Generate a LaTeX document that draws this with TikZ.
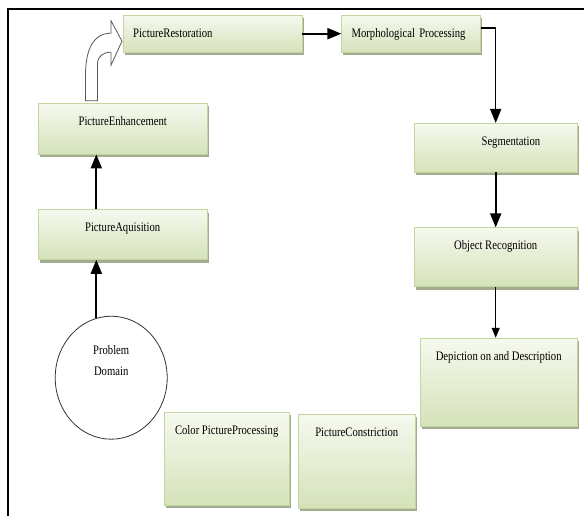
\documentclass[tikz,border=0pt]{standalone}
\usepackage{fontspec}
\newfontfamily\diagfont[FakeStretch=0.82]{Liberation Serif}
\usepackage{xcolor}
\usepackage{tikz}
\usetikzlibrary{arrows.meta, positioning, shadows, shapes.geometric}
\definecolor{blocktop}{RGB}{246, 249, 239}
\definecolor{blockbottom}{RGB}{213, 226, 185}
\definecolor{blockborder}{RGB}{196, 214, 160}
\definecolor{blockshadow}{RGB}{163, 171, 143}

\begin{document}
\begin{tikzpicture}[
    x=1pt, y=-1pt,
    node distance=55pt,
    block/.style={draw=blockborder, top color=blocktop, bottom color=blockbottom, inner sep=0pt, text height=22pt, anchor=north west, font=\diagfont\fontsize{13}{16}\selectfont, drop shadow={shadow xshift=1.5pt, shadow yshift=-3pt, fill=blockshadow, opacity=1}},
    leftblock/.style={block, inner xsep=10pt, align=left},
    source/.style={draw=black!80, fill=white, ellipse, minimum width=112pt, minimum height=123pt, inner sep=0pt, line width=0.8pt},
    arrow/.style={-{Triangle[length=14pt, width=11pt]}, line width=2pt},
    thinarrow/.style={-{Triangle[length=10pt, width=8pt]}, line width=1.2pt},
    bent/.style={draw=black!65, fill=white, line width=0.8pt},
    frame/.style={line width=1.6pt}
]
    \useasboundingbox (0,0) rectangle (584,516);
    \draw[frame] (8,516) -- (8,9) -- (584,9);

    % Main entities
    \node[leftblock, text width=159pt, text depth=15pt] at (123,15) (restore) {PictureRestoration};
    \node[leftblock, text width=119pt, text depth=15pt, right=39pt of restore] (morph) {Morphological Processing};
    \node[block, minimum width=163pt, text depth=27pt, inner xsep=37pt, text width=89pt, align=right] at (414,123) (seg) {Segmentation};
    \node[block, minimum width=163pt, text depth=37pt, below=of seg] (obj) {Object Recognition};
    \node[block, minimum width=157pt, text depth=66pt, below=51pt of obj, xshift=3pt] (depict) {Depiction on and Description};
    \node[block, minimum width=117pt, text depth=72pt] at (298,414) (constr) {PictureConstriction};
    \node[block, minimum width=125pt, text depth=71pt] at (164,412) (color) {Color PictureProcessing};
    \node[block, minimum width=169pt, text depth=29pt] at (38,103) (enh) {PictureEnhancement};
    \node[block, minimum width=169pt, text depth=28pt, below=of enh] (acq) {PictureAquisition};
    \node[source, below=56pt of acq, xshift=-11.5pt,
        label={[font=\diagfont\fontsize{13}{16}\selectfont, align=center, yshift=17.5pt]center:Problem\\[5pt]Domain}] (domain) {};

    % Relationships
    \draw[arrow] (domain.104) -- (domain.104 |- acq.south);
    \draw[arrow] (acq.north -| domain.104) -- (enh.south -| domain.104);
    \draw[bent, shift={(restore.west)}] (-37.5,67) -- (-37.5,41.5)
        .. controls (-37.5,16.5) and (-30,-0.5) .. (-12,-0.5) -- (-12,-13) -- (-1,7.5) -- (-12,31.5) -- (-12,18.5)
        .. controls (-20,18.5) and (-25.5,22.5) .. (-25.5,30.5) -- (-25.5,67) -- cycle;
    \draw[arrow] (restore) -- (morph);
    \draw[arrow, line width=1.4pt] ([yshift=5.5pt]morph.east) -| (seg.north);
    \draw[arrow] (seg) -- (obj);
    \draw[thinarrow] (obj.south) -- (obj.south |- depict.north);
\end{tikzpicture}
\end{document}
